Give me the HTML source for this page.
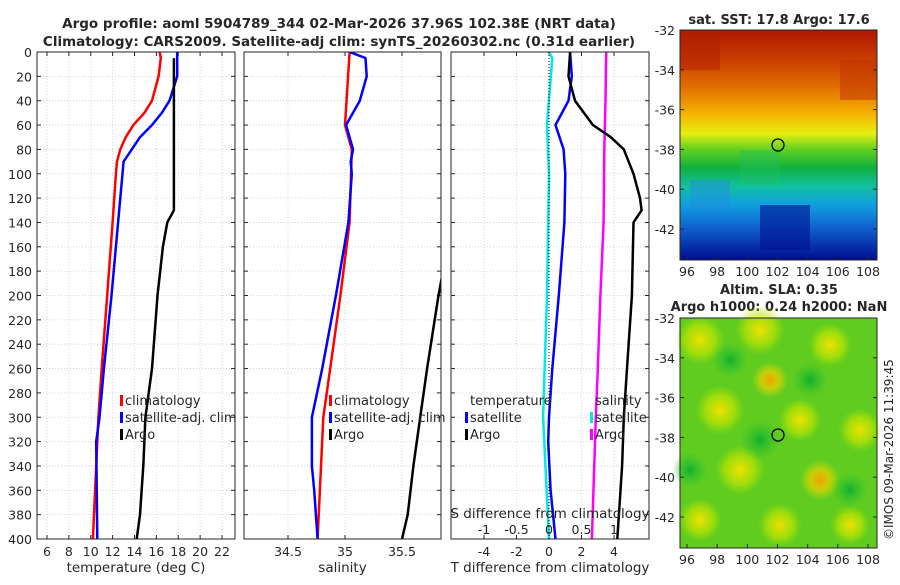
<!DOCTYPE html>
<html><head><meta charset="utf-8"><style>
body{margin:0;background:#fff;font-family:"Liberation Sans",sans-serif}
svg text{font-family:"DejaVu Sans","Liberation Sans",sans-serif;fill:#262626}
</style></head><body>
<svg id="c" width="900" height="580" xmlns="http://www.w3.org/2000/svg">
<defs>
<linearGradient id="sst" x1="0" y1="0" x2="0" y2="1">
<stop offset="0" stop-color="#b01800"/><stop offset="0.12" stop-color="#c83a00"/><stop offset="0.25" stop-color="#e07000"/><stop offset="0.36" stop-color="#f5b000"/><stop offset="0.45" stop-color="#e8ee10"/><stop offset="0.52" stop-color="#60d020"/><stop offset="0.6" stop-color="#10b040"/><stop offset="0.68" stop-color="#10c0a0"/><stop offset="0.76" stop-color="#10a0e0"/><stop offset="0.86" stop-color="#1060d0"/><stop offset="1" stop-color="#000c90"/>
</linearGradient>
<radialGradient id="yb"><stop offset="0" stop-color="#f0e000"/><stop offset="0.6" stop-color="#c8e800" stop-opacity="0.6"/><stop offset="1" stop-color="#a0e000" stop-opacity="0"/></radialGradient>
<radialGradient id="ob"><stop offset="0" stop-color="#f0a000"/><stop offset="0.5" stop-color="#f0d000" stop-opacity="0.7"/><stop offset="1" stop-color="#e0e000" stop-opacity="0"/></radialGradient>
<radialGradient id="gb"><stop offset="0" stop-color="#10b030"/><stop offset="1" stop-color="#30c030" stop-opacity="0"/></radialGradient>
</defs>
<text x="339" y="28" text-anchor="middle" font-size="13.5" font-weight="bold">Argo profile: aoml 5904789_344 02-Mar-2026 37.96S 102.38E (NRT data)</text>
<text x="339" y="46" text-anchor="middle" font-size="13.5" font-weight="bold">Climatology: CARS2009. Satellite-adj clim: synTS_20260302.nc (0.31d earlier)</text>
<g id="plots"></g>
<g>
<text x="779" y="24" text-anchor="middle" font-size="13" font-weight="bold">sat. SST: 17.8 Argo: 17.6</text>
<rect x="680" y="30" width="197" height="230" fill="url(#sst)"/>
<rect x="680" y="30" width="40" height="40" fill="#b02000" opacity="0.5"/>
<rect x="840" y="60" width="37" height="40" fill="#c03000" opacity="0.5"/>
<rect x="690" y="180" width="40" height="30" fill="#2090e0" opacity="0.5"/>
<rect x="760" y="205" width="50" height="45" fill="#001090" opacity="0.6"/>
<rect x="740" y="150" width="40" height="35" fill="#20c060" opacity="0.4"/>
<circle cx="778" cy="145" r="6" fill="none" stroke="#000" stroke-width="1.3"/>
<rect x="680" y="30" width="197" height="230" fill="none" stroke="#262626"/>
</g>
<g>
<text x="779" y="294" text-anchor="middle" font-size="13" font-weight="bold">Altim. SLA: 0.35</text>
<text x="779" y="311" text-anchor="middle" font-size="13" font-weight="bold">Argo h1000: 0.24 h2000: NaN</text>
<rect x="680" y="318" width="197" height="230" fill="#60cc20"/>
<circle cx="700" cy="340" r="25" fill="url(#yb)"/><circle cx="760" cy="330" r="25" fill="url(#yb)"/><circle cx="830" cy="345" r="22" fill="url(#yb)"/>
<circle cx="770" cy="380" r="18" fill="url(#ob)"/><circle cx="720" cy="410" r="25" fill="url(#yb)"/><circle cx="800" cy="420" r="22" fill="url(#yb)"/>
<circle cx="860" cy="430" r="22" fill="url(#yb)"/><circle cx="740" cy="470" r="25" fill="url(#yb)"/><circle cx="820" cy="480" r="20" fill="url(#ob)"/>
<circle cx="700" cy="520" r="22" fill="url(#yb)"/><circle cx="780" cy="525" r="22" fill="url(#yb)"/><circle cx="850" cy="525" r="20" fill="url(#yb)"/>
<circle cx="730" cy="360" r="18" fill="url(#gb)"/><circle cx="810" cy="380" r="18" fill="url(#gb)"/><circle cx="760" cy="440" r="20" fill="url(#gb)"/><circle cx="690" cy="470" r="18" fill="url(#gb)"/><circle cx="850" cy="490" r="18" fill="url(#gb)"/>
<circle cx="778" cy="435" r="6" fill="none" stroke="#000" stroke-width="1.3"/>
<rect x="680" y="318" width="197" height="230" fill="none" stroke="#262626"/>
</g>
<g id="maps"></g>
<text transform="translate(893,540) rotate(-90)" font-size="12">©IMOS 09-Mar-2026 11:39:45</text>
</svg>
<script>
const NS="http://www.w3.org/2000/svg";
// depth axis
const depthTicks=[0,20,40,60,80,100,120,140,160,180,200,220,240,260,280,300,320,340,360,380,400];
// Panel 1 temperature
const tempTicks=[6,8,10,12,14,16,18,20,22];
const climDepth=[0,5,20,40,50,60,70,80,90,100,140,200,260,300,400];
const climTemp=[16.3,16.4,16.2,15.6,14.9,13.9,13.2,12.7,12.4,12.3,12.0,11.5,11.0,10.7,10.2];
const satDepth=[0,20,40,50,60,70,90,100,140,200,260,300,320,400];
const satTemp=[17.9,17.9,17.2,16.5,15.6,14.5,13.0,12.9,12.5,11.9,11.2,10.8,10.5,10.6];
const argoDepth=[5,130,140,160,200,260,300,340,380,400];
const argoTemp=[17.6,17.6,17.0,16.6,16.1,15.6,15.0,14.8,14.5,14.2];
// Panel 2 salinity
const salTicks=[34.5,35,35.5];
const climSalDepth=[0,60,80,140,200,260,300,400];
const climSal=[35.04,35.0,35.06,35.04,34.96,34.87,34.81,34.76];
const satSalDepth=[0,5,20,40,60,80,90,100,140,200,260,300,340,360,400];
const satSal=[35.04,35.18,35.19,35.13,35.01,35.07,35.05,35.06,35.03,34.92,34.80,34.71,34.71,34.73,34.76];
const argoSalDepth=[0,180,200,260,300,340,380,400];
const argoSal=[36.0,35.86,35.82,35.72,35.66,35.60,35.55,35.50];
// Panel 3 differences
const tdTicks=[-4,-2,0,2,4];
const sdTicks=[-1,-0.5,0,0.5,1];
const dTSatDepth=[0,20,40,60,80,100,140,200,260,300,320,360,400];
const dTSat=[1.3,1.4,1.2,0.4,0.9,1.0,0.95,0.6,0.2,0.0,-0.05,0.1,0.4];
const dTArgoDepth=[0,20,40,60,70,80,100,120,130,140,200,260,300,340,400];
const dTArgo=[1.3,1.2,1.6,2.7,3.8,4.6,5.2,5.6,5.7,5.2,5.1,4.8,4.6,4.5,4.2];
const dSSatDepth=[0,5,60,100,200,300,400];
const dSSat=[0.0,0.05,-0.03,0.0,-0.03,-0.09,0.0];
const dSArgoDepth=[0,40,80,140,200,260,300,400];
const dSArgo=[0.88,0.87,0.85,0.84,0.79,0.75,0.72,0.66];
// maps
const lonTicks=[96,98,100,102,104,106,108];
const latTicks=[-32,-34,-36,-38,-40,-42];

const root=document.getElementById('plots');
const Y0=52,Y1=539;
const yD=d=>Y0+(d/400)*(Y1-Y0);
function el(tag,a,p){const e=document.createElementNS(NS,tag);for(const k in a)e.setAttribute(k,a[k]);(p||root).appendChild(e);return e;}
function txt(x,y,s,anchor,size,p){const t=el('text',{x:x,y:y,'text-anchor':anchor||'middle','font-size':size||12},p);t.textContent=s;return t;}
function lin(v0,v1,p0,p1){return v=>p0+(v-v0)*(p1-p0)/(v1-v0);}

function panel(name,L,R,xf,xticks,fmt,xlabel,showY){
  const g=el('g',{});
  
  
  const clip=el('clipPath',{id:'cl'+name},g);
  el('rect',{x:L,y:Y0,width:R-L,height:Y1-Y0},clip);
  for(const d of depthTicks){const y=yD(d);
    el('line',{x1:L,x2:R,y1:y,y2:y,stroke:'#c8cce0','stroke-width':0.8,'stroke-dasharray':'1,2'},g);
    el('line',{x1:L,x2:L+4,y1:y,y2:y,stroke:'#262626'},g);el('line',{x1:R,x2:R-4,y1:y,y2:y,stroke:'#262626'},g);
    if(showY){const t=txt(L-5,y+5,String(d),'end',12.5,g);}
  }
  for(const v of xticks){const x=xf(v);
    el('line',{x1:x,x2:x,y1:Y0,y2:Y1,stroke:'#c8cce0','stroke-width':0.8,'stroke-dasharray':'1,2'},g);
    el('line',{x1:x,x2:x,y1:Y1,y2:Y1-4,stroke:'#262626'},g);el('line',{x1:x,x2:x,y1:Y0,y2:Y0+4,stroke:'#262626'},g);
    const t=txt(x,Y1+17,fmt(v),'middle',12.5,g);
  }
  const xl=txt((L+R)/2,Y1+33,xlabel,'middle',13.5,g);
  
  const lines=el('g',{'clip-path':'url(#cl'+name+')'},g);
  el('rect',{x:L,y:Y0,width:R-L,height:Y1-Y0,fill:'none',stroke:'#262626'},g);
  return {g:g,lines:lines};
}
function series(p,xf,vals,depths,color,name,w){
  const pts=vals.map((v,i)=>xf(v).toFixed(1)+','+yD(depths[i]).toFixed(1)).join(' ');
  const e=el('polyline',{points:pts,fill:'none',stroke:color,'stroke-width':w||2.5,'stroke-linejoin':'round'},p.lines);
  
  
}
function legend(g,x,y,items){
  items.forEach((it,i)=>{
    el('rect',{x:x,y:y+i*17-10,width:3,height:11,fill:it[1]},g);
    const t=txt(x+5,y+i*17,it[0],'start',13,g);
    
    
  });
}
// Panel 1
const xT=lin(6,22,47,222);
const p1=panel('temperature-panel',37,235,xT,tempTicks,v=>String(v),'temperature (deg C)',true);
series(p1,xT,climTemp,climDepth,'#ff0000','temp-climatology-line');
series(p1,xT,satTemp,satDepth,'#0000ff','temp-satellite-line');
series(p1,xT,argoTemp,argoDepth,'#000000','temp-argo-line');
legend(p1.g,120,405,[['climatology','#ff0000'],['satellite-adj. clim','#0000ff'],['Argo','#000']]);
// Panel 2
const xS=lin(34.5,35.5,288,402);
const p2=panel('salinity-panel',244,441,xS,salTicks,v=>String(v),'salinity',false);
series(p2,xS,climSal,climSalDepth,'#ff0000','sal-climatology-line');
series(p2,xS,satSal,satSalDepth,'#0000ff','sal-satellite-line');
series(p2,xS,argoSal,argoSalDepth,'#000000','sal-argo-line');
legend(p2.g,329,405,[['climatology','#ff0000'],['satellite-adj. clim','#0000ff'],['Argo','#000']]);
// Panel 3
const xTd=lin(0,4,549,614);
const xSd=lin(0,1,549,614);
const p3=panel('difference-panel',451,649,xTd,tdTicks,v=>String(v),'T difference from climatology',false);
el('line',{x1:xTd(0),x2:xTd(0),y1:Y0,y2:Y1,stroke:'#000','stroke-width':1,'stroke-dasharray':'1,2'},p3.g);
series(p3,xSd,dSSat,dSSatDepth,'#00e8e8','sal-diff-satellite-line');
series(p3,xSd,dSArgo,dSArgoDepth,'#ff00ff','sal-diff-argo-line');
series(p3,xTd,dTSat,dTSatDepth,'#0000ff','temp-diff-satellite-line');
series(p3,xTd,dTArgo,dTArgoDepth,'#000000','temp-diff-argo-line');
const tl=txt(470,405,'temperature','start',13,p3.g);
const sl=txt(595,405,'salinity','start',13,p3.g);
legend(p3.g,465,422,[['satellite','#0000ff'],['Argo','#000']]);
legend(p3.g,590,422,[['satellite','#00e8e8'],['Argo','#ff00ff']]);
const sdt=txt(550,518,'S difference from climatology','middle',13.5,p3.g);
for(const v of sdTicks){const t=txt(xSd(v),534,String(v),'middle',12.5,p3.g);}
// Map axes
const mp=document.getElementById('maps');
const xLon=lin(96,108,687,868);
function mapAxes(top,bot){
  const yLat=lin(-32,-42,top,top+199);
  for(const v of latTicks){const y=yLat(v);
    el('line',{x1:680,x2:684,y1:y,y2:y,stroke:'#262626'},mp);el('line',{x1:877,x2:873,y1:y,y2:y,stroke:'#262626'},mp);
    const t=txt(675,y+5,String(v),'end',12.5,mp);}
  for(const v of lonTicks){const x=xLon(v);
    el('line',{x1:x,x2:x,y1:bot,y2:bot-4,stroke:'#262626'},mp);
    const t=txt(x,bot+16,String(v),'middle',12.5,mp);}
}
mapAxes(30,260);
mapAxes(318,548);
</script>
</body></html>
